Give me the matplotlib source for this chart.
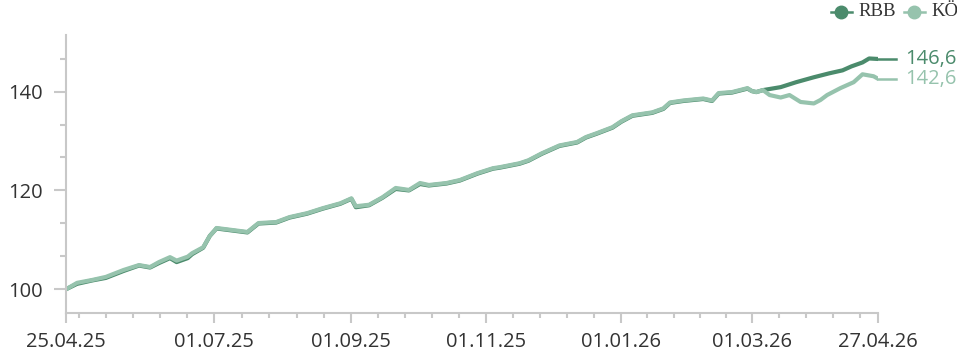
import pandas as pd
import matplotlib.pyplot as plt
import matplotlib.dates as mdates
from matplotlib.lines import Line2D
from matplotlib.ticker import FixedLocator, NullFormatter

# index values (start = 100), read per date
dates_rbb = ["2025-04-25", "2025-04-30", "2025-05-07", "2025-05-13", "2025-05-21", "2025-05-28",
             "2025-06-02", "2025-06-06", "2025-06-11", "2025-06-14", "2025-06-19", "2025-06-21",
             "2025-06-26", "2025-06-29", "2025-07-01", "2025-07-02", "2025-07-09", "2025-07-16",
             "2025-07-21", "2025-07-29", "2025-08-04", "2025-08-12", "2025-08-19", "2025-08-27",
             "2025-09-01", "2025-09-03", "2025-09-09", "2025-09-15", "2025-09-21", "2025-09-27",
             "2025-10-02", "2025-10-06", "2025-10-14", "2025-10-20", "2025-10-28", "2025-11-04",
             "2025-11-07", "2025-11-16", "2025-11-20", "2025-11-26", "2025-12-04", "2025-12-12",
             "2025-12-16", "2025-12-21", "2025-12-28", "2026-01-01", "2026-01-06", "2026-01-15",
             "2026-01-20", "2026-01-23", "2026-01-29", "2026-02-07", "2026-02-11", "2026-02-14",
             "2026-02-20", "2026-02-27", "2026-03-01", "2026-03-03", "2026-03-06", "2026-03-14",
             "2026-03-21", "2026-03-29", "2026-04-05", "2026-04-11", "2026-04-15", "2026-04-20",
             "2026-04-23", "2026-04-27"]
rbb = [100.0, 101.1, 101.8, 102.3, 103.7, 104.8, 104.4, 105.3, 106.3, 105.5, 106.3, 107.1,
       108.4, 110.8, 111.8, 112.3, 111.9, 111.5, 113.3, 113.5, 114.5, 115.3, 116.3, 117.3,
       118.3, 116.6, 117.0, 118.5, 120.3, 120.0, 121.3, 121.0, 121.4, 122.0, 123.4, 124.4,
       124.6, 125.4, 126.0, 127.4, 129.0, 129.7, 130.7, 131.5, 132.7, 133.9, 135.1, 135.7,
       136.5, 137.7, 138.1, 138.5, 138.1, 139.6, 139.8, 140.6, 140.1, 139.9, 140.3, 140.9,
       141.9, 142.9, 143.7, 144.3, 145.1, 145.9, 146.7, 146.6]

dates_ko = dates_rbb[:59] + ["2026-03-09", "2026-03-14", "2026-03-18", "2026-03-23", "2026-03-29",
                             "2026-04-01", "2026-04-04", "2026-04-10", "2026-04-16", "2026-04-20",
                             "2026-04-25", "2026-04-27"]
ko = [100.0, 101.3, 101.9, 102.5, 103.9, 104.9, 104.5, 105.5, 106.5, 105.8, 106.6, 107.3,
      108.5, 110.8, 111.8, 112.4, 112.0, 111.6, 113.4, 113.6, 114.6, 115.4, 116.4, 117.4,
      118.4, 116.8, 117.1, 118.6, 120.5, 120.1, 121.5, 121.1, 121.5, 122.1, 123.5, 124.5,
      124.7, 125.5, 126.1, 127.5, 129.1, 129.8, 130.8, 131.6, 132.8, 134.0, 135.2, 135.8,
      136.6, 137.8, 138.2, 138.6, 138.2, 139.7, 139.9, 140.7, 140.1, 139.9, 140.3,
      139.3, 138.8, 139.3, 137.9, 137.6, 138.3, 139.3, 140.7, 141.9, 143.5, 143.1, 142.6]

names = ["RBB", "KÖ"]
colors = ["#4b8b6c", "#96c3ad"]
major_dates = ["2025-04-25", "2025-07-01", "2025-09-01", "2025-11-01", "2026-01-01", "2026-03-01", "2026-04-27"]
major_labels = ["25.04.25", "01.07.25", "01.09.25", "01.11.25", "01.01.26", "01.03.26", "27.04.26"]

grey = "#c8c8c8"
txt = "#333333"
plt.rcParams['font.family'] = ['Open Sans', 'DejaVu Sans']

fig = plt.figure(figsize=(9.57, 3.58), dpi=100)
W, H = 957, 358
ax = fig.add_axes([66 / W, 45 / H, 812 / W, 278 / H])

series = [(pd.to_datetime(dates_rbb), rbb), (pd.to_datetime(dates_ko), ko)]
for (d, v), c in zip(series, colors):
    ax.plot(d, v, color=c, lw=3.0, solid_joinstyle='round', solid_capstyle='round')

start = pd.Timestamp(major_dates[0])
end = pd.Timestamp(major_dates[-1])
ax.set_xlim(start, end)
ax.set_ylim(95.2, 151.45)

# end value labels with a short leader line
for (d, v), c in zip(series, colors):
    ax.plot([d[-1], d[-1] + pd.Timedelta(days=8)], [v[-1], v[-1]], color=c, lw=1.8, clip_on=False)
    ax.text(d[-1] + pd.Timedelta(days=12.5), v[-1], f"{v[-1]:.1f}".replace(".", ","),
            color=c, fontsize=14.5, va='center', ha='left', clip_on=False)

# x ticks: labelled dates + 5 minor steps per two months
ax.xaxis.set_major_locator(FixedLocator(mdates.date2num(pd.to_datetime(major_dates))))
ax.set_xticklabels(major_labels)
minor = []
edges = pd.date_range("2025-05-01", "2026-05-01", freq="2MS")
for a, b in zip(edges[:-1], edges[1:]):
    for k in range(5):
        t = a + (b - a) * k / 5
        if start < t < end:
            minor.append(t)
ax.xaxis.set_minor_locator(FixedLocator(mdates.date2num(pd.DatetimeIndex(minor))))
ax.xaxis.set_minor_formatter(NullFormatter())

ax.set_yticks([100, 120, 140])
ax.set_yticks([100 + 20 / 3 * k for k in range(8) if k % 3], minor=True)

for s in ["top", "right"]:
    ax.spines[s].set_visible(False)
for s in ["left", "bottom"]:
    ax.spines[s].set_color(grey)
    ax.spines[s].set_linewidth(1.5)

ax.tick_params(axis='y', which='major', length=8.5, width=1.5, color=grey, labelsize=14.5,
               labelcolor=txt, pad=8)
ax.tick_params(axis='y', which='minor', length=4.5, width=1.5, color=grey)
ax.tick_params(axis='x', which='major', length=7.5, width=1.5, color=grey, labelsize=14.5,
               labelcolor=txt, pad=6)
ax.tick_params(axis='x', which='minor', length=3.5, width=1.5, color=grey)

# legend in the top right corner
for i, (n, c) in enumerate(zip(names, colors)):
    x0 = 831 + i * 73
    fig.add_artist(Line2D([x0 / W, (x0 + 21) / W], [1 - 12 / H, 1 - 12 / H], color=c, lw=1.8))
    fig.add_artist(Line2D([(x0 + 10) / W], [1 - 12 / H], marker='o', markersize=9, color=c))
    fig.text((x0 + 27) / W, 1 - 12 / H, n, color=txt, fontsize=13.5, va='center', ha='left',
             family=['Liberation Serif', 'DejaVu Serif'])

fig.savefig("out.png", dpi=100)
